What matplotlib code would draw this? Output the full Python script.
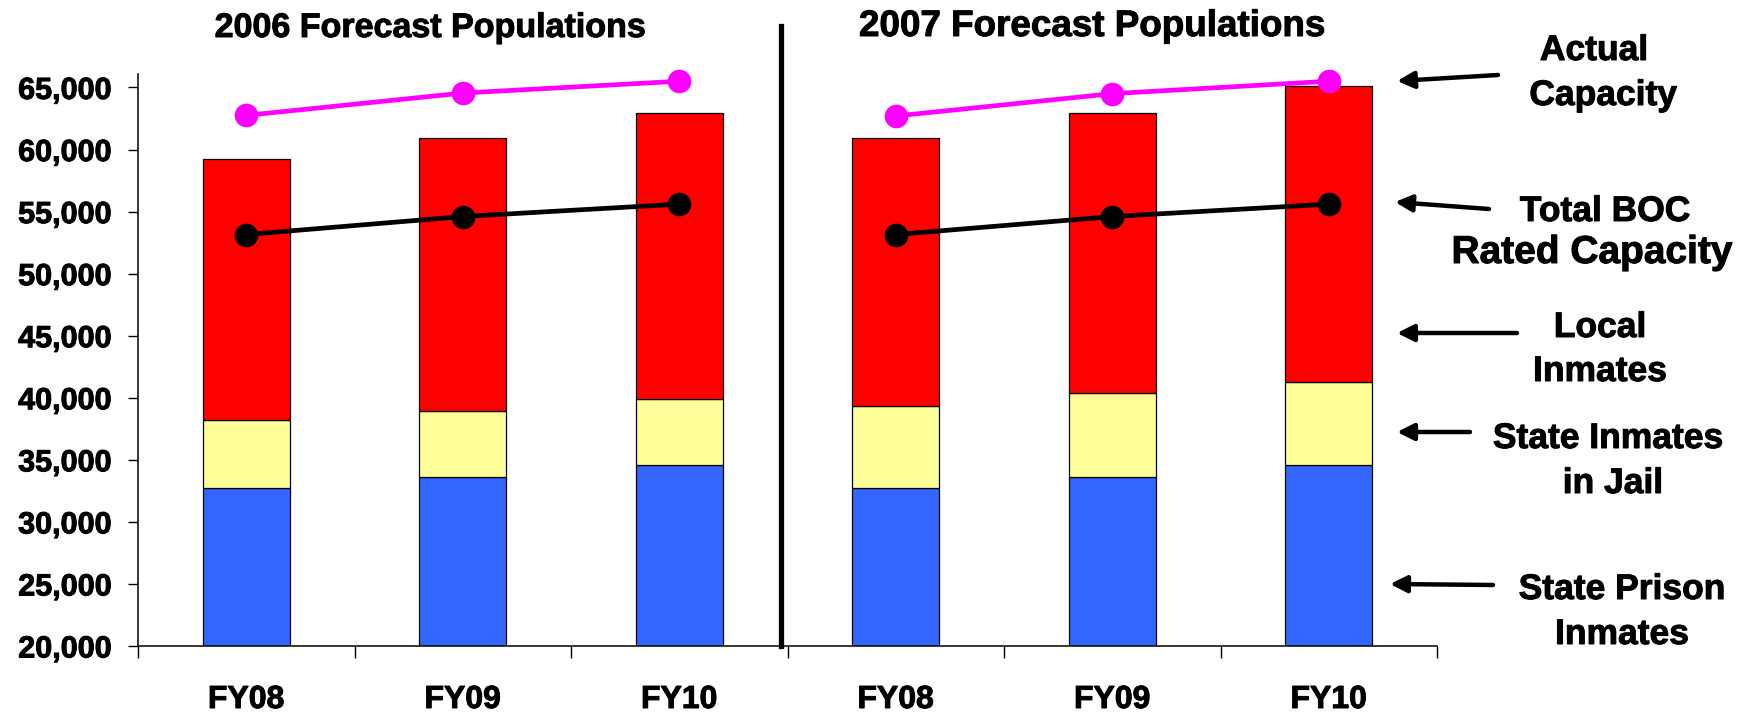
import matplotlib
matplotlib.use("Agg")
import matplotlib.pyplot as plt
import matplotlib.transforms as mtransforms
import matplotlib.patheffects as pe
from matplotlib.patches import FancyArrowPatch
from matplotlib.ticker import FuncFormatter, FixedLocator
import numpy as np

# Forecast populations by fiscal year
categories = ["FY08", "FY09", "FY10"]
titles = ["2006 Forecast Populations", "2007 Forecast Populations"]

state_prison_2006 = [32750, 33600, 34550]
state_jail_2006 = [5450, 5300, 5350]
local_2006 = [21000, 22000, 23050]
boc_rated_2006 = [53150, 54600, 55600]
actual_cap_2006 = [62750, 64550, 65500]

state_prison_2007 = [32750, 33600, 34550]
state_jail_2007 = [6600, 6750, 6700]
local_2007 = [21550, 22600, 23850]
boc_rated_2007 = [53150, 54600, 55600]
actual_cap_2007 = [62700, 64500, 65500]

y_ticks = [20000, 25000, 30000, 35000, 40000, 45000, 50000, 55000, 60000, 65000]

side_labels = [["Actual", "Capacity"], ["Total BOC", "Rated Capacity"], ["Local", "Inmates"],
               ["State Inmates", "in Jail"], ["State Prison", "Inmates"]]

BLUE = "#3366FF"
YELLOW = "#FFFF99"
RED = "#FF0000"
MAGENTA = "#FF00FF"

W, H = 1760, 712
DPI = 100
plt.rcParams["font.family"] = ["Liberation Sans", "DejaVu Sans"]
plt.rcParams["font.weight"] = "bold"

# slightly heavier glyphs for all text
HEAVY = [pe.withStroke(linewidth=0.7, foreground="black")]

fig = plt.figure(figsize=(W / DPI, H / DPI), dpi=DPI)


def fx(px):
    return px / W


def fy(py):
    return 1 - py / H


ax_left, ax_right, ax_bottom, ax_top = 138, 1437, 646, 73.8
ax = fig.add_axes([fx(ax_left), fy(ax_bottom), fx(ax_right - ax_left), (ax_bottom - ax_top) / H])

panels = [
    (state_prison_2006, state_jail_2006, local_2006, boc_rated_2006, actual_cap_2006),
    (state_prison_2007, state_jail_2007, local_2007, boc_rated_2007, actual_cap_2007),
]

bar_w = 0.40
for p, (prison, jail, local, rated, actual) in enumerate(panels):
    x = np.arange(len(categories)) + p * len(categories)
    prison = np.array(prison)
    jail = np.array(jail)
    local = np.array(local)
    ax.bar(x, prison, bar_w, color=BLUE, edgecolor="black", linewidth=0.9, zorder=2)
    ax.bar(x, jail, bar_w, bottom=prison, color=YELLOW, edgecolor="black", linewidth=0.9, zorder=2)
    ax.bar(x, local, bar_w, bottom=prison + jail, color=RED, edgecolor="black", linewidth=0.9, zorder=2)
    ax.plot(x, rated, color="black", lw=3.4, marker="o", ms=16, zorder=4, clip_on=False)
    ax.plot(x, actual, color=MAGENTA, lw=3.4, marker="o", ms=16, zorder=4, clip_on=False)

n = 2 * len(categories)
ax.set_xlim(-0.5, n - 0.5)
ax.set_ylim(20000, 66100)

# panel divider
ax.axvline(2.47, ymin=0, ymax=(ax_bottom - 25.7) / (ax_bottom - ax_top),
           color="black", lw=3.8, clip_on=False, zorder=5)

for s in ["top", "right"]:
    ax.spines[s].set_visible(False)
for s in ["left", "bottom"]:
    ax.spines[s].set_linewidth(1.1)

ax.xaxis.set_major_locator(FixedLocator(np.arange(n + 1) - 0.5))
ax.set_xticklabels([])
ax.tick_params(axis="x", which="major", length=8.5, width=1.0, direction="out")

ax.set_yticks(y_ticks)
ax.yaxis.set_major_formatter(FuncFormatter(lambda v, _: f"{int(v):,}"))
ax.tick_params(axis="y", length=7, width=1.0, pad=12, labelsize=22)
for lab in ax.get_yticklabels():
    lab.set_fontweight("bold")
    lab.set_path_effects(HEAVY)

# category labels under each bar
trans = mtransforms.blended_transform_factory(ax.transData, ax.transAxes)
base = -(708 - ax_bottom) / (ax_bottom - ax_top)
for i in range(n):
    ax.text(i, base, categories[i % len(categories)], transform=trans, ha="center",
            va="baseline", fontsize=23, fontweight="bold", path_effects=HEAVY)

# panel titles
fig.text(fx(430), fy(37), titles[0], ha="center", va="baseline", fontsize=24.5,
         fontweight="bold", path_effects=HEAVY)
fig.text(fx(1092), fy(36), titles[1], ha="center", va="baseline", fontsize=26.5,
         fontweight="bold", path_effects=HEAVY)

# series callouts: (x centre, baseline, size) of each line, and arrows (tail, head)
line_pos = [[(1594, 60, 25.5), (1603, 105, 25.5)],
            [(1605, 221, 25.5), (1592, 263, 28)],
            [(1600, 337, 25.5), (1600, 381, 25.5)],
            [(1608, 448, 25.5), (1613, 493, 25.5)],
            [(1622, 599, 25.5), (1622, 644, 25.5)]]
arrows = [((1498, 75), (1397, 81)),
          ((1489, 209), (1395, 202)),
          ((1517, 333), (1397, 333)),
          ((1470, 432), (1397, 432)),
          ((1493, 585), (1390, 584))]

for lines, positions in zip(side_labels, line_pos):
    for text, (tx, ty, size) in zip(lines, positions):
        fig.text(fx(tx), fy(ty), text, ha="center", va="baseline", fontsize=size,
                 fontweight="bold", path_effects=HEAVY)

for (tail, head) in arrows:
    fig.add_artist(FancyArrowPatch(
        (fx(tail[0]), fy(tail[1])), (fx(head[0]), fy(head[1])),
        transform=fig.transFigure, arrowstyle="-|>,head_length=10,head_width=5",
        color="black", lw=3.2, mutation_scale=1, shrinkA=0, shrinkB=0))

fig.savefig("out.png", dpi=DPI)
